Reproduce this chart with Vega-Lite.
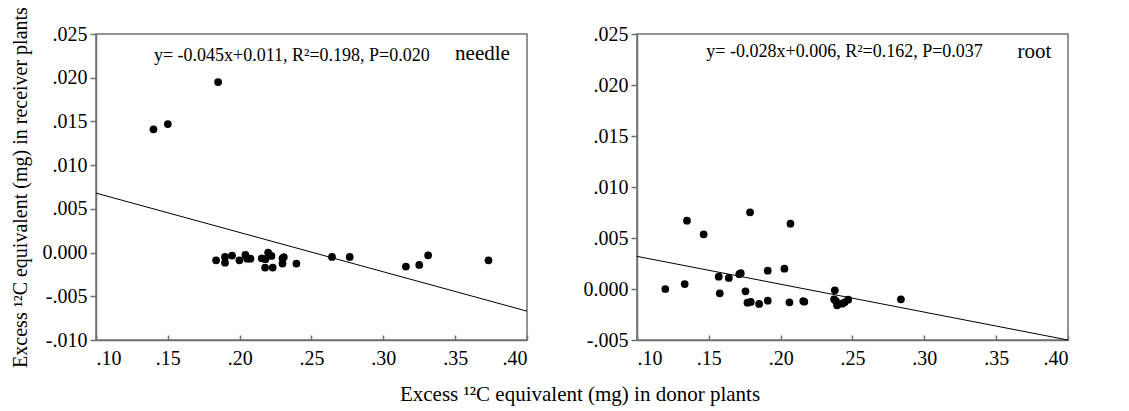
{
  "$schema": "https://vega.github.io/schema/vega-lite/v6.json",
  "background": "white",
  "padding": {"left": 9, "top": 5, "right": 5, "bottom": 5},
  "spacing": 52,
  "datasets": {
    "needlePts": [
      {"x": 0.140, "y": 0.0141}, {"x": 0.150, "y": 0.0147}, {"x": 0.185, "y": 0.0195},
      {"x": 0.1836, "y": -0.00088}, {"x": 0.1898, "y": -0.0005}, {"x": 0.1898, "y": -0.00115},
      {"x": 0.1947, "y": -0.00034}, {"x": 0.1998, "y": -0.00088}, {"x": 0.204, "y": -0.00027},
      {"x": 0.2052, "y": -0.0007}, {"x": 0.2075, "y": -0.0007}, {"x": 0.2154, "y": -0.00065},
      {"x": 0.2198, "y": 0.0}, {"x": 0.2179, "y": -0.00076}, {"x": 0.2221, "y": -0.00038},
      {"x": 0.2177, "y": -0.00172}, {"x": 0.223, "y": -0.00172}, {"x": 0.2298, "y": -0.00065},
      {"x": 0.2298, "y": -0.00126}, {"x": 0.2307, "y": -0.00053}, {"x": 0.2395, "y": -0.00126},
      {"x": 0.2643, "y": -0.0005}, {"x": 0.2766, "y": -0.0005}, {"x": 0.3157, "y": -0.0016},
      {"x": 0.325, "y": -0.00141}, {"x": 0.3312, "y": -0.00031}, {"x": 0.3732, "y": -0.00088}
    ],
    "rootPts": [
      {"x": 0.1197, "y": 0.0}, {"x": 0.1332, "y": 0.00049}, {"x": 0.1348, "y": 0.0067},
      {"x": 0.1464, "y": 0.00536}, {"x": 0.1569, "y": 0.00121}, {"x": 0.1576, "y": -0.00042},
      {"x": 0.1639, "y": 0.00108}, {"x": 0.1712, "y": 0.00145}, {"x": 0.1722, "y": 0.00155},
      {"x": 0.1755, "y": -0.00023}, {"x": 0.1769, "y": -0.00134}, {"x": 0.1792, "y": -0.00127},
      {"x": 0.1787, "y": 0.00752}, {"x": 0.185, "y": -0.00147}, {"x": 0.191, "y": 0.0018},
      {"x": 0.191, "y": -0.00114}, {"x": 0.2026, "y": 0.00199}, {"x": 0.2061, "y": -0.00131},
      {"x": 0.2068, "y": 0.0064}, {"x": 0.2157, "y": -0.00118}, {"x": 0.2165, "y": -0.00125},
      {"x": 0.2377, "y": -0.00013}, {"x": 0.2372, "y": -0.00101}, {"x": 0.2385, "y": -0.0012},
      {"x": 0.2393, "y": -0.0016}, {"x": 0.2428, "y": -0.00144}, {"x": 0.2445, "y": -0.0013},
      {"x": 0.247, "y": -0.00105}, {"x": 0.2837, "y": -0.00101}
    ],
    "fits": [
      {"panel": "needle", "x": 0.1, "y": 0.0068},
      {"panel": "needle", "x": 0.4, "y": -0.0067},
      {"panel": "root", "x": 0.1, "y": 0.0032},
      {"panel": "root", "x": 0.4, "y": -0.005}
    ],
    "notes": [
      {"panel": "needle", "kind": "eq", "x": 0.2363, "y": 0.0225, "text": "y= -0.045x+0.011, R²=0.198, P=0.020"},
      {"panel": "needle", "kind": "name", "x": 0.369, "y": 0.0227, "text": "needle"},
      {"panel": "root", "kind": "eq", "x": 0.2445, "y": 0.0232, "text": "y= -0.028x+0.006, R²=0.162, P=0.037"},
      {"panel": "root", "kind": "name", "x": 0.3766, "y": 0.0232, "text": "root"}
    ]
  },
  "title": {
    "text": "Excess ¹²C equivalent (mg) in donor plants",
    "orient": "bottom",
    "anchor": "middle",
    "font": "Liberation Serif",
    "fontSize": 21,
    "fontWeight": "normal",
    "color": "black",
    "offset": 15,
    "dx": 40
  },
  "hconcat": [
    {
      "width": 431,
      "height": 306,
      "layer": [
        {
          "data": {"name": "needlePts"},
          "mark": {"type": "circle", "size": 60, "color": "black", "opacity": 1},
          "encoding": {
            "x": {"field": "x", "type": "quantitative",
              "scale": {"domain": [0.1, 0.4], "nice": false, "zero": false},
              "axis": {"title": null, "values": [0.1, 0.15, 0.2, 0.25, 0.3, 0.35, 0.4],
                "tickSize": -5, "labelPadding": 13, "labelFont": "Liberation Serif",
                "labelExpr": "replace(format(datum.value, '.2f'), '0.', '.')"}},
            "y": {"field": "y", "type": "quantitative",
              "scale": {"domain": [-0.01, 0.025], "nice": false, "zero": false},
              "axis": {"title": "Excess ¹²C equivalent (mg) in receiver plants",
                "labelFont": "Liberation Serif", "titleFont": "Liberation Serif",
                "values": [-0.01, -0.005, 0, 0.005, 0.01, 0.015, 0.02, 0.025],
                "labelExpr": "datum.value == 0 ? '0.000' : replace(replace(format(datum.value, '.3f'), '0.', '.'), '−', '-')"}}
          }
        },
        {
          "data": {"name": "fits"},
          "transform": [{"filter": "datum.panel == 'needle'"}],
          "mark": {"type": "line", "color": "black", "strokeWidth": 1},
          "encoding": {
            "x": {"field": "x", "type": "quantitative"},
            "y": {"field": "y", "type": "quantitative"}
          }
        },
        {
          "data": {"name": "notes"},
          "transform": [{"filter": "datum.panel == 'needle' && datum.kind == 'eq'"}],
          "mark": {"type": "text", "font": "Liberation Serif", "fontSize": 18, "align": "center", "baseline": "middle", "color": "black"},
          "encoding": {
            "x": {"field": "x", "type": "quantitative"},
            "y": {"field": "y", "type": "quantitative"},
            "text": {"field": "text"}
          }
        },
        {
          "data": {"name": "notes"},
          "transform": [{"filter": "datum.panel == 'needle' && datum.kind == 'name'"}],
          "mark": {"type": "text", "font": "Liberation Serif", "fontSize": 21, "align": "center", "baseline": "middle", "color": "black"},
          "encoding": {
            "x": {"field": "x", "type": "quantitative"},
            "y": {"field": "y", "type": "quantitative"},
            "text": {"field": "text"}
          }
        }
      ]
    },
    {
      "width": 431,
      "height": 306,
      "layer": [
        {
          "data": {"name": "rootPts"},
          "mark": {"type": "circle", "size": 60, "color": "black", "opacity": 1},
          "encoding": {
            "x": {"field": "x", "type": "quantitative",
              "scale": {"domain": [0.1, 0.4], "nice": false, "zero": false},
              "axis": {"title": null, "values": [0.1, 0.15, 0.2, 0.25, 0.3, 0.35, 0.4],
                "tickSize": -5, "labelPadding": 13, "labelFont": "Liberation Serif",
                "labelExpr": "replace(format(datum.value, '.2f'), '0.', '.')"}},
            "y": {"field": "y", "type": "quantitative",
              "scale": {"domain": [-0.005, 0.025], "nice": false, "zero": false},
              "axis": {"title": null, "labelFont": "Liberation Serif",
                "values": [-0.005, 0, 0.005, 0.01, 0.015, 0.02, 0.025],
                "labelExpr": "datum.value == 0 ? '0.000' : replace(replace(format(datum.value, '.3f'), '0.', '.'), '−', '-')"}}
          }
        },
        {
          "data": {"name": "fits"},
          "transform": [{"filter": "datum.panel == 'root'"}],
          "mark": {"type": "line", "color": "black", "strokeWidth": 1},
          "encoding": {
            "x": {"field": "x", "type": "quantitative"},
            "y": {"field": "y", "type": "quantitative"}
          }
        },
        {
          "data": {"name": "notes"},
          "transform": [{"filter": "datum.panel == 'root' && datum.kind == 'eq'"}],
          "mark": {"type": "text", "font": "Liberation Serif", "fontSize": 18, "align": "center", "baseline": "middle", "color": "black"},
          "encoding": {
            "x": {"field": "x", "type": "quantitative"},
            "y": {"field": "y", "type": "quantitative"},
            "text": {"field": "text"}
          }
        },
        {
          "data": {"name": "notes"},
          "transform": [{"filter": "datum.panel == 'root' && datum.kind == 'name'"}],
          "mark": {"type": "text", "font": "Liberation Serif", "fontSize": 21, "align": "center", "baseline": "middle", "color": "black"},
          "encoding": {
            "x": {"field": "x", "type": "quantitative"},
            "y": {"field": "y", "type": "quantitative"},
            "text": {"field": "text"}
          }
        }
      ]
    }
  ],
  "config": {
    "view": {"stroke": "#707070", "strokeWidth": 1.5},
    "axis": {
      "grid": false,
      "domainColor": "#707070",
      "domainWidth": 1.5,
      "tickColor": "#707070",
      "tickWidth": 1.5,
      "tickSize": 6,
      "labelPadding": 3,
      "labelFont": "Liberation Serif",
      "labelFontSize": 20,
      "labelColor": "black",
      "titleFont": "Liberation Serif",
      "titleFontSize": 20,
      "titleFontWeight": "normal",
      "titleColor": "black",
      "titlePadding": 12
    }
  }
}
